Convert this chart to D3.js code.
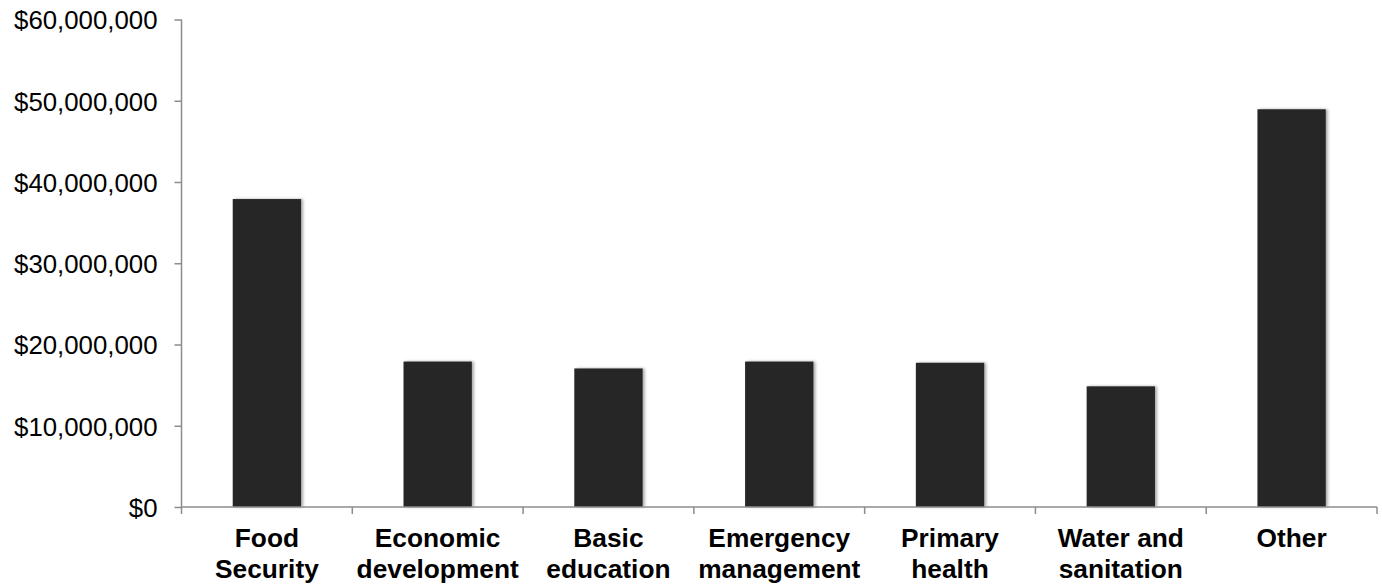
<!DOCTYPE html>
<html>
<head>
<meta charset="utf-8">
<script src="https://cdn.jsdelivr.net/npm/d3@7"></script>
<style>
  body { margin: 0; background: #fff; }
  text { font-family: "Liberation Sans", Arial, sans-serif; }
</style>
</head>
<body>
<script>
var categories = [["Food", "Security"], ["Economic", "development"], ["Basic", "education"],
    ["Emergency", "management"], ["Primary", "health"], ["Water and", "sanitation"], ["Other"]],
    values = [37900000, 17900000, 17050000, 17900000, 17750000, 14850000, 48950000],
    yTicks = [0, 10000000, 20000000, 30000000, 40000000, 50000000, 60000000];

var width = 1382, height = 584,
    plotLeft = 181.5, plotRight = 1377, plotTop = 19.5, plotBottom = 507;

var svg = d3.select("body").append("svg")
    .attr("width", width)
    .attr("height", height);

var defs = svg.append("defs");
var f = defs.append("filter").attr("id", "shadow")
    .attr("x", "-10%").attr("y", "-5%").attr("width", "125%").attr("height", "110%");
f.append("feGaussianBlur").attr("in", "SourceAlpha").attr("stdDeviation", 1.5).attr("result", "b");
f.append("feOffset").attr("in", "b").attr("dx", 1.5).attr("dy", 0).attr("result", "o");
f.append("feComponentTransfer").attr("in", "o").attr("result", "s")
    .append("feFuncA").attr("type", "linear").attr("slope", 0.35);
var m = f.append("feMerge");
m.append("feMergeNode").attr("in", "s");
m.append("feMergeNode").attr("in", "SourceGraphic");

var x = d3.scaleBand()
    .domain(d3.range(categories.length))
    .range([plotLeft, plotRight])
    .paddingInner(0.6)
    .paddingOuter(0.3);

var y = d3.scaleLinear()
    .domain([0, 60000000])
    .range([plotBottom, plotTop]);

svg.selectAll("rect.bar")
    .data(values)
    .enter().append("rect")
    .attr("class", "bar")
    .attr("x", function(d, i) { return x(i); })
    .attr("y", function(d) { return y(d); })
    .attr("width", x.bandwidth())
    .attr("height", function(d) { return plotBottom - y(d); })
    .attr("fill", "#262626")
    .attr("filter", "url(#shadow)");

// y axis
var yAxis = svg.append("g")
    .attr("transform", "translate(" + plotLeft + ",0)")
    .call(d3.axisLeft(y).tickValues(yTicks).tickSize(7).tickPadding(17)
        .tickFormat(function(d) { return "$" + d3.format(",")(d); }));
yAxis.select(".domain").attr("stroke", "#8c8c8c").attr("stroke-width", 1.5)
    .attr("d", "M0," + plotTop + "V" + plotBottom);
yAxis.selectAll(".tick line").attr("stroke", "#8c8c8c").attr("stroke-width", 1.5);
yAxis.selectAll(".tick text")
    .attr("font-family", "'Liberation Sans', Arial, sans-serif")
    .attr("font-size", "25.8px")
    .attr("fill", "#000")
    .attr("dy", "0.36em");

// x axis
var step = (plotRight - plotLeft) / categories.length;
var xEdges = d3.range(categories.length + 1).map(function(i) { return plotLeft + i * step; });
var xAxis = svg.append("g");
xAxis.append("line")
    .attr("x1", plotLeft).attr("x2", plotRight)
    .attr("y1", plotBottom).attr("y2", plotBottom)
    .attr("stroke", "#8c8c8c").attr("stroke-width", 1.5);
xAxis.selectAll("line.tk")
    .data(xEdges)
    .enter().append("line")
    .attr("class", "tk")
    .attr("x1", function(d) { return d; }).attr("x2", function(d) { return d; })
    .attr("y1", plotBottom).attr("y2", plotBottom + 7)
    .attr("stroke", "#8c8c8c").attr("stroke-width", 1.5);

var labels = xAxis.selectAll("text")
    .data(categories)
    .enter().append("text")
    .attr("x", function(d, i) { return x(i) + x.bandwidth() / 2; })
    .attr("y", 546.5)
    .attr("text-anchor", "middle")
    .attr("font-size", "26.3px")
    .attr("font-weight", "bold")
    .attr("fill", "#000");
labels.selectAll("tspan")
    .data(function(d) { return d; })
    .enter().append("tspan")
    .attr("x", function() { return d3.select(this.parentNode).attr("x"); })
    .attr("dy", function(d, i) { return i ? 31.6 : 0; })
    .text(function(d) { return d; });
</script>
</body>
</html>
